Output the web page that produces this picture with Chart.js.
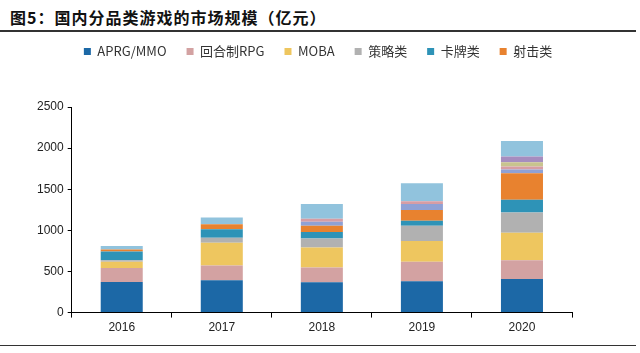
<!DOCTYPE html>
<html>
<head>
<meta charset="utf-8">
<script src="https://cdn.jsdelivr.net/npm/chart.js@4/dist/chart.umd.min.js"></script>
<style>
body { margin: 0; background: #fff; }
#wrap { position: relative; width: 640px; height: 353px; }
#title { position: absolute; left: 10px; top: 5px; font: bold 16px "Noto Sans CJK SC", sans-serif; color: #111; letter-spacing: 1px; }
#topline { position: absolute; left: 0; top: 30px; width: 636px; border-top: 2px solid #333; }
#bottomline { position: absolute; left: 0; top: 345px; width: 636px; border-top: 1px solid #333; }
canvas { position: absolute; left: 0; top: 0; }
</style>
</head>
<body>
<div id="wrap">
	<div id="title">图5：国内分品类游戏的市场规模（亿元）</div>
	<div id="topline"></div>
	<canvas id="chart" width="640" height="353"></canvas>
	<div id="bottomline"></div>
</div>
<script>
var years = ["2016", "2017", "2018", "2019", "2020"];

// legend series
var aprg     = [371, 392, 368, 380, 408];
var turnRpg  = [172, 180, 180, 237, 229];
var moba     = [74, 277, 245, 254, 335];
var strategy = [20, 61, 107, 184, 245];
var cards    = [105, 103, 81, 61, 155];
var shooter  = [25, 61, 75, 131, 322];

// unlabelled segments stacked on top
var other1 = [0, 0, 50, 73, 47];
var other2 = [0, 0, 35, 33, 35];
var other3 = [0, 0, 0, 0, 53];
var other4 = [0, 0, 0, 0, 70];
var other5 = [42, 81, 180, 220, 188];

var yTicks = [0, 500, 1000, 1500, 2000, 2500];

function makeSet(label, data, color)
{
	return { label: label, data: data, backgroundColor: color, borderWidth: 0, barPercentage: 0.42, categoryPercentage: 1.0 };
}

// legend gets the whole canvas width, a gap below it, and sits a bit right of centre
var legendFix = {
	id: 'legendFix',
	beforeInit: function(chart) {
		var fit = chart.legend.fit;
		chart.legend.fit = function() {
			this.maxWidth = 640;
			fit.bind(chart.legend)();
			this.height += 39;
		};
	},
	afterLayout: function(chart) {
		chart.legend.left = -4;
		chart.legend.right = 640;
	}
};

new Chart(document.getElementById("chart").getContext("2d"), {
	type: 'bar',
	data: {
		labels: years,
		datasets: [
			makeSet("APRG/MMO", aprg, "#1c68a6"),
			makeSet("回合制RPG", turnRpg, "#d3a2a2"),
			makeSet("MOBA", moba, "#eec65f"),
			makeSet("策略类", strategy, "#b1b1b1"),
			makeSet("卡牌类", cards, "#2e93b7"),
			makeSet("射击类", shooter, "#e8822f"),
			makeSet("其他1", other1, "#8fa1d5"),
			makeSet("其他2", other2, "#d79da4"),
			makeSet("其他3", other3, "#c8c38e"),
			makeSet("其他4", other4, "#a68dbf"),
			makeSet("其他5", other5, "#91c3dd")
		]
	},
	options: {
		responsive: false,
		animation: false,
		layout: { padding: { top: 25, left: 33, right: 68, bottom: 15 } },
		plugins: {
			legend: {
				position: 'top',
				labels: {
					boxWidth: 7,
					boxHeight: 7,
					padding: 20,
					color: '#333',
					font: { family: '"Noto Sans CJK SC", sans-serif', size: 13 },
					filter: function(item) { return item.datasetIndex < 6; }
				}
			},
			tooltip: { enabled: false }
		},
		scales: {
			x: {
				stacked: true,
				grid: { drawOnChartArea: false, drawTicks: true, tickLength: 5, color: '#000', offset: true },
				border: { color: '#000', width: 1 },
				ticks: { color: '#222', padding: 3, font: { family: '"Liberation Sans", Arial', size: 12 } }
			},
			y: {
				stacked: true,
				min: 0,
				max: 2500,
				afterBuildTicks: function(axis) { axis.ticks = yTicks.map(function(v) { return { value: v }; }); },
				grid: { drawOnChartArea: false, drawTicks: true, tickLength: 4, color: '#000' },
				border: { color: '#000', width: 1 },
				ticks: {
					color: '#222',
					padding: 4,
					font: { family: '"Liberation Sans", Arial', size: 12 },
					callback: function(value) { return String(value); }
				}
			}
		}
	},
	plugins: [legendFix]
});
</script>
</body>
</html>
